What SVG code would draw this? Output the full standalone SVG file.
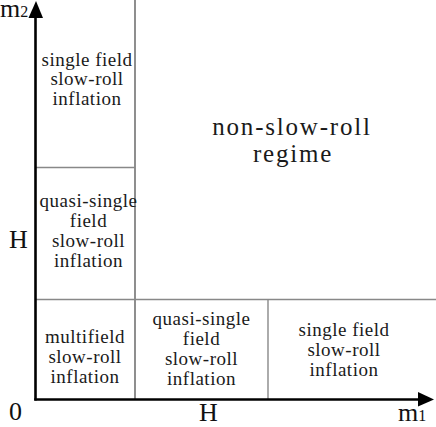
<svg xmlns="http://www.w3.org/2000/svg" width="436" height="427" viewBox="0 0 436 427">
<style>
.t{font-family:"Liberation Serif","Times New Roman",serif;font-size:19px;letter-spacing:0.5px;fill:#1a1a1a;text-anchor:middle}
.big{font-family:"Liberation Serif","Times New Roman",serif;font-size:25px;letter-spacing:1.8px;fill:#1a1a1a;text-anchor:middle}
.ax{font-family:"Liberation Serif","Times New Roman",serif;font-size:26px;fill:#111}
.g1{stroke:#444;stroke-width:1.2;fill:none}
.g2{stroke:#888;stroke-width:1.4;fill:none}
.axis{stroke:#000;stroke-width:2.6;fill:none}
</style>
<g id="connectors">
<line class="g1" x1="135" y1="0" x2="135" y2="399"/>
<line class="g2" x1="36" y1="167.5" x2="135" y2="167.5"/>
<line class="g2" x1="36" y1="299.5" x2="436" y2="299.5"/>
<line class="g2" x1="268" y1="299.5" x2="268" y2="399"/>
<line class="axis" x1="35.5" y1="400.5" x2="35.5" y2="16"/>
<polygon points="28.5,18 43,18 36,1" fill="#000"/>
<line class="axis" x1="34.3" y1="399.5" x2="420" y2="399.5"/>
<polygon points="418,392 418,406.5 434,399.5" fill="#000"/>
</g>
<g id="axis-labels">
<text class="ax" x="0" y="17" font-size="27">m<tspan font-size="16">2</tspan></text>
<text class="ax" x="9" y="420">0</text>
<text class="ax" x="9" y="248">H</text>
<text class="ax" x="199" y="421">H</text>
<text class="ax" x="398" y="421" font-size="27">m<tspan font-size="16">1</tspan></text>
</g>
<g id="single-field-top">
<text class="t" x="87" y="65.5">single field</text>
<text class="t" x="87" y="85">slow-roll</text>
<text class="t" x="87" y="104.5">inflation</text>
</g>
<g id="quasi-single-left">
<text class="t" x="88.5" y="206.5">quasi-single</text>
<text class="t" x="88.5" y="226.5">field</text>
<text class="t" x="88.5" y="246.5">slow-roll</text>
<text class="t" x="88.5" y="266.5">inflation</text>
</g>
<g id="non-slow-roll">
<text class="big" x="292" y="135">non-slow-roll</text>
<text class="big" x="293" y="162">regime</text>
</g>
<g id="multifield">
<text class="t" x="85" y="343">multifield</text>
<text class="t" x="85" y="363">slow-roll</text>
<text class="t" x="85" y="383">inflation</text>
</g>
<g id="quasi-single-bottom">
<text class="t" x="201.5" y="325">quasi-single</text>
<text class="t" x="201.5" y="345">field</text>
<text class="t" x="201.5" y="365">slow-roll</text>
<text class="t" x="201.5" y="385">inflation</text>
</g>
<g id="single-field-bottom">
<text class="t" x="344" y="336">single field</text>
<text class="t" x="344" y="356">slow-roll</text>
<text class="t" x="344" y="376">inflation</text>
</g>
</svg>
